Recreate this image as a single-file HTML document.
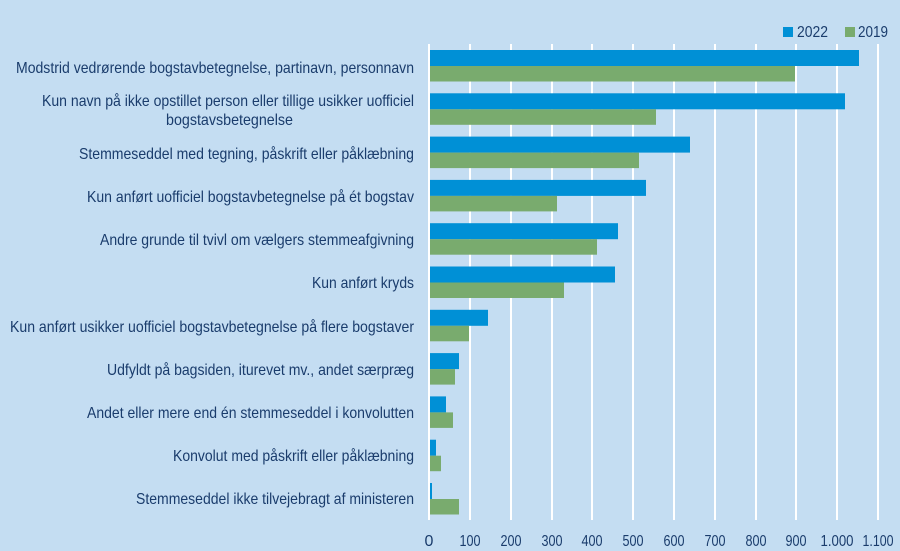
<!DOCTYPE html>
<html><head><meta charset="utf-8"><style>
html,body{margin:0;padding:0;background:#c4ddf2;}
svg{display:block;font-family:"Liberation Sans",Arial,sans-serif;}
</style></head><body>
<svg width="900" height="551" viewBox="0 0 900 551">
<rect width="900" height="551" fill="#c4ddf2"/>
<g stroke="#ffffff" stroke-width="2">
<line x1="429" y1="44" x2="429" y2="520"/><line x1="470" y1="44" x2="470" y2="520"/><line x1="511" y1="44" x2="511" y2="520"/><line x1="552" y1="44" x2="552" y2="520"/><line x1="592" y1="44" x2="592" y2="520"/><line x1="633" y1="44" x2="633" y2="520"/><line x1="674" y1="44" x2="674" y2="520"/><line x1="715" y1="44" x2="715" y2="520"/><line x1="756" y1="44" x2="756" y2="520"/><line x1="796" y1="44" x2="796" y2="520"/><line x1="837" y1="44" x2="837" y2="520"/><line x1="878" y1="44" x2="878" y2="520"/>
</g>
<g fill="#0090d6">
<rect x="430" y="50" width="429" height="16"/>
<rect x="430" y="93.3" width="415" height="16"/>
<rect x="430" y="136.6" width="260" height="16"/>
<rect x="430" y="179.9" width="216" height="16"/>
<rect x="430" y="223.2" width="188" height="16"/>
<rect x="430" y="266.5" width="185" height="16"/>
<rect x="430" y="309.8" width="58" height="16"/>
<rect x="430" y="353.1" width="29" height="16"/>
<rect x="430" y="396.4" width="16" height="16"/>
<rect x="430" y="439.7" width="6" height="16"/>
<rect x="430" y="483" width="2" height="16"/>
</g>
<g fill="#79ab6e">
<rect x="430" y="66" width="365" height="15.5"/>
<rect x="430" y="109.3" width="226" height="15.5"/>
<rect x="430" y="152.6" width="209" height="15.5"/>
<rect x="430" y="195.9" width="127" height="15.5"/>
<rect x="430" y="239.2" width="167" height="15.5"/>
<rect x="430" y="282.5" width="134" height="15.5"/>
<rect x="430" y="325.8" width="39" height="15.5"/>
<rect x="430" y="369.1" width="25" height="15.5"/>
<rect x="430" y="412.4" width="23" height="15.5"/>
<rect x="430" y="455.7" width="11" height="15.5"/>
<rect x="430" y="499" width="29" height="15.5"/>
</g>
<g fill="#1a3c6c" font-size="16" text-anchor="end">
<text x="414" y="73" textLength="398" lengthAdjust="spacingAndGlyphs">Modstrid vedrørende bogstavbetegnelse, partinavn, personnavn</text>
<text x="414" y="106" textLength="372" lengthAdjust="spacingAndGlyphs">Kun navn på ikke opstillet person eller tillige usikker uofficiel</text>
<text x="293" y="125" textLength="127" lengthAdjust="spacingAndGlyphs">bogstavsbetegnelse</text>
<text x="414" y="159" textLength="335" lengthAdjust="spacingAndGlyphs">Stemmeseddel med tegning, påskrift eller påklæbning</text>
<text x="414" y="202" textLength="327" lengthAdjust="spacingAndGlyphs">Kun anført uofficiel bogstavbetegnelse på ét bogstav</text>
<text x="414" y="245" textLength="314" lengthAdjust="spacingAndGlyphs">Andre grunde til tvivl om vælgers stemmeafgivning</text>
<text x="414" y="288" textLength="102" lengthAdjust="spacingAndGlyphs">Kun anført kryds</text>
<text x="414" y="332" textLength="404" lengthAdjust="spacingAndGlyphs">Kun anført usikker uofficiel bogstavbetegnelse på flere bogstaver</text>
<text x="414" y="375" textLength="307" lengthAdjust="spacingAndGlyphs">Udfyldt på bagsiden, iturevet mv., andet særpræg</text>
<text x="414" y="418" textLength="327" lengthAdjust="spacingAndGlyphs">Andet eller mere end én stemmeseddel i konvolutten</text>
<text x="414" y="461" textLength="241" lengthAdjust="spacingAndGlyphs">Konvolut med påskrift eller påklæbning</text>
<text x="414" y="504" textLength="278" lengthAdjust="spacingAndGlyphs">Stemmeseddel ikke tilvejebragt af ministeren</text>
</g>
<g fill="#1a3c6c" font-size="16" text-anchor="middle" lengthAdjust="spacingAndGlyphs">
<text x="429" y="546">0</text>
<text x="470" y="546" textLength="21" lengthAdjust="spacingAndGlyphs">100</text>
<text x="511" y="546" textLength="21" lengthAdjust="spacingAndGlyphs">200</text>
<text x="552" y="546" textLength="21" lengthAdjust="spacingAndGlyphs">300</text>
<text x="592" y="546" textLength="21" lengthAdjust="spacingAndGlyphs">400</text>
<text x="633" y="546" textLength="21" lengthAdjust="spacingAndGlyphs">500</text>
<text x="674" y="546" textLength="21" lengthAdjust="spacingAndGlyphs">600</text>
<text x="715" y="546" textLength="21" lengthAdjust="spacingAndGlyphs">700</text>
<text x="756" y="546" textLength="21" lengthAdjust="spacingAndGlyphs">800</text>
<text x="796" y="546" textLength="21" lengthAdjust="spacingAndGlyphs">900</text>
<text x="837" y="546" textLength="33" lengthAdjust="spacingAndGlyphs">1.000</text>
<text x="878" y="546" textLength="31" lengthAdjust="spacingAndGlyphs">1.100</text>
</g>
<rect x="783" y="27" width="10" height="10" fill="#0090d6"/>
<text x="797" y="37" fill="#1a3c6c" font-size="16" textLength="31" lengthAdjust="spacingAndGlyphs">2022</text>
<rect x="845" y="27" width="10" height="10" fill="#79ab6e"/>
<text x="858" y="37" fill="#1a3c6c" font-size="16" textLength="30" lengthAdjust="spacingAndGlyphs">2019</text>
</svg>
</body></html>
